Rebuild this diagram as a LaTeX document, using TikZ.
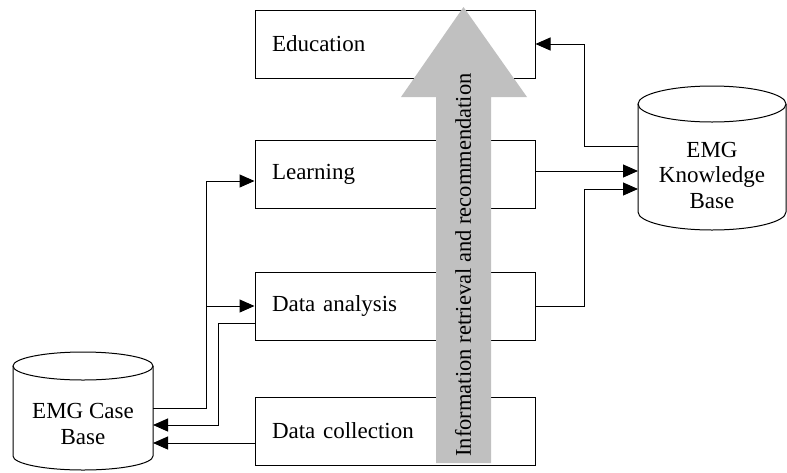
\documentclass[tikz,border=0pt]{standalone}
\usepackage{fontspec}
\setmainfont{Liberation Serif}
\usetikzlibrary{arrows.meta}
\definecolor{arrowgray}{RGB}{192,192,192}
\begin{document}
\begin{tikzpicture}[x=1pt,y=-1pt,
  box/.style={draw, line width=1pt, minimum width=280pt, minimum height=68pt,
    text width=246pt, inner xsep=17pt, inner ysep=0pt, align=left,
    font=\fontsize{23}{26}\selectfont},
  conn/.style={line width=1pt},
  arr/.style={conn, -{Triangle[length=15pt,width=13pt]}},
  cyl/.style={draw, line width=1pt},
  lbl/.style={align=center, inner sep=0pt, font=\fontsize{23}{25.5}\selectfont},
  bigarrow/.style={fill=arrowgray}]
\useasboundingbox (0,0) rectangle (787,472);

% process boxes
\node[box] (edu) at (395,44) {Education};
\node[box] (learn) at (395,174) {Learning};
\node[box] (da) at (395,306) {Data analysis};
\node[box] (dc) at (395,431) {Data collection};

% knowledge base cylinder
\draw[cyl] (712,104) ellipse [x radius=74pt, y radius=18pt];
\draw[cyl] (638,104) -- (638,212) arc[start angle=180, end angle=360, x radius=74pt, y radius=18pt] -- (786,104);
\node[lbl] (kb) at (712,175) {EMG\\Knowledge\\Base};

% case base cylinder
\draw[cyl] (83,366) ellipse [x radius=70pt, y radius=14pt];
\draw[cyl] (13,366) -- (13,456) arc[start angle=180, end angle=360, x radius=70pt, y radius=14pt] -- (153,366);
\node[lbl] (cb) at (83,424) {EMG Case\\Base};

% connector end points on the cylinders
\coordinate (cbA) at (153,408);
\coordinate (cbB) at (153,425);
\coordinate (cbC) at (153,443);
\coordinate (kbA) at (638,146);
\coordinate (kbB) at (638,171);
\coordinate (kbC) at (638,189);

% connectors
\draw[arr] (cbA) -- (206,408) |- ([yshift=-7pt]learn.west);
\draw[arr] (206,306) -- (da.west);
\draw[arr] ([yshift=-17pt]da.west) -| (218,425) -- (cbB);
\draw[arr] ([yshift=-12pt]dc.west) -- (cbC);
\draw[arr] (kbA) -- (584,146) |- (edu.east);
\draw[arr] (learn.east |- kbB) -- (kbB);
\draw[arr] (da.east) -- (584,306) |- (kbC);

% big gray arrow
\path[bigarrow] (436,463) -- (436,97) -- (401,97) -- (463.5,7) -- (527,97) -- (491,97) -- (491,463) -- cycle;
\node[rotate=90, inner sep=0pt, font=\fontsize{22.5}{25}\selectfont] (ir) at (463,265) {Information retrieval and recommendation};
\end{tikzpicture}
\end{document}
